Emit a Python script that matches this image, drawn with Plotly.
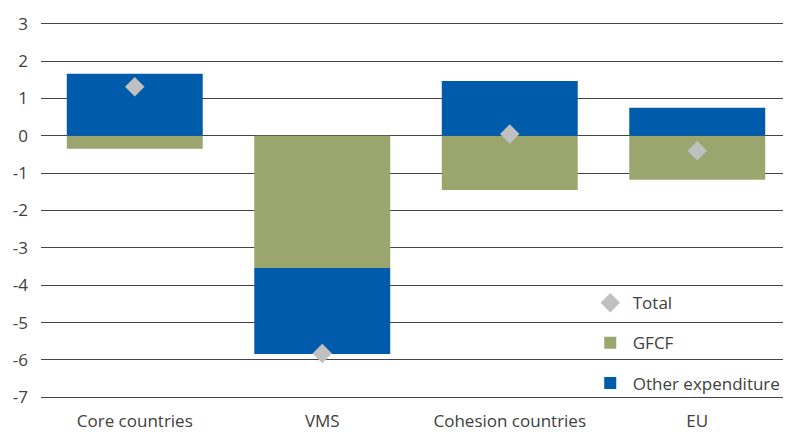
import plotly.graph_objects as go

categories = ["Core countries", "VMS", "Cohesion countries", "EU"]
gfcf = [-0.35, -3.54, -1.45, -1.18]
other_exp = [1.66, -2.30, 1.47, 0.75]
total = [1.31, -5.83, 0.05, -0.40]
y_ticks = [3, 2, 1, 0, -1, -2, -3, -4, -5, -6, -7]

GREEN = "#9aa66e"
BLUE = "#005baa"
GREY = "#c0c0c0"

fig = go.Figure()
fig.add_trace(go.Bar(x=categories, y=gfcf, name="GFCF",
                     marker=dict(color=GREEN, line=dict(width=0)), legendgroup="b", legendrank=2))
fig.add_trace(go.Bar(x=categories, y=other_exp, name="Other expenditure",
                     marker=dict(color=BLUE, line=dict(width=0)), legendgroup="c", legendrank=3))
fig.add_trace(go.Scatter(x=categories, y=total, name="Total", mode="markers",
                         marker=dict(symbol="diamond", size=15, color=GREY),
                         legendgroup="a", legendrank=1))

fig.update_layout(
    width=783, height=424,
    margin=dict(l=33, r=0, t=12, b=31, autoexpand=False),
    barmode="relative",
    bargap=0.275,
    plot_bgcolor="white", paper_bgcolor="white",
    font=dict(family="Open Sans, sans-serif", size=17, color="#404040"),
    showlegend=True,
    legend=dict(x=0.729, y=0.304, xanchor="left", yanchor="top",
                bgcolor="rgba(0,0,0,0)", traceorder="grouped",
                tracegroupgap=15, font=dict(size=17, color="#404040"),
                itemwidth=35),
    xaxis=dict(showgrid=False, showline=False, ticks="", tickfont=dict(size=17),
               ticklabelstandoff=8, automargin=False),
    yaxis=dict(range=[-7.1, 3.1], tickvals=y_ticks, ticktext=[str(v) for v in y_ticks],
               showgrid=True, gridcolor="#444444", gridwidth=1,
               zeroline=True, zerolinecolor="#444444", zerolinewidth=1,
               showline=False, ticks="", ticklabelstandoff=12, automargin=False,
               tickfont=dict(size=17)),
)

fig.write_html("out.html")
